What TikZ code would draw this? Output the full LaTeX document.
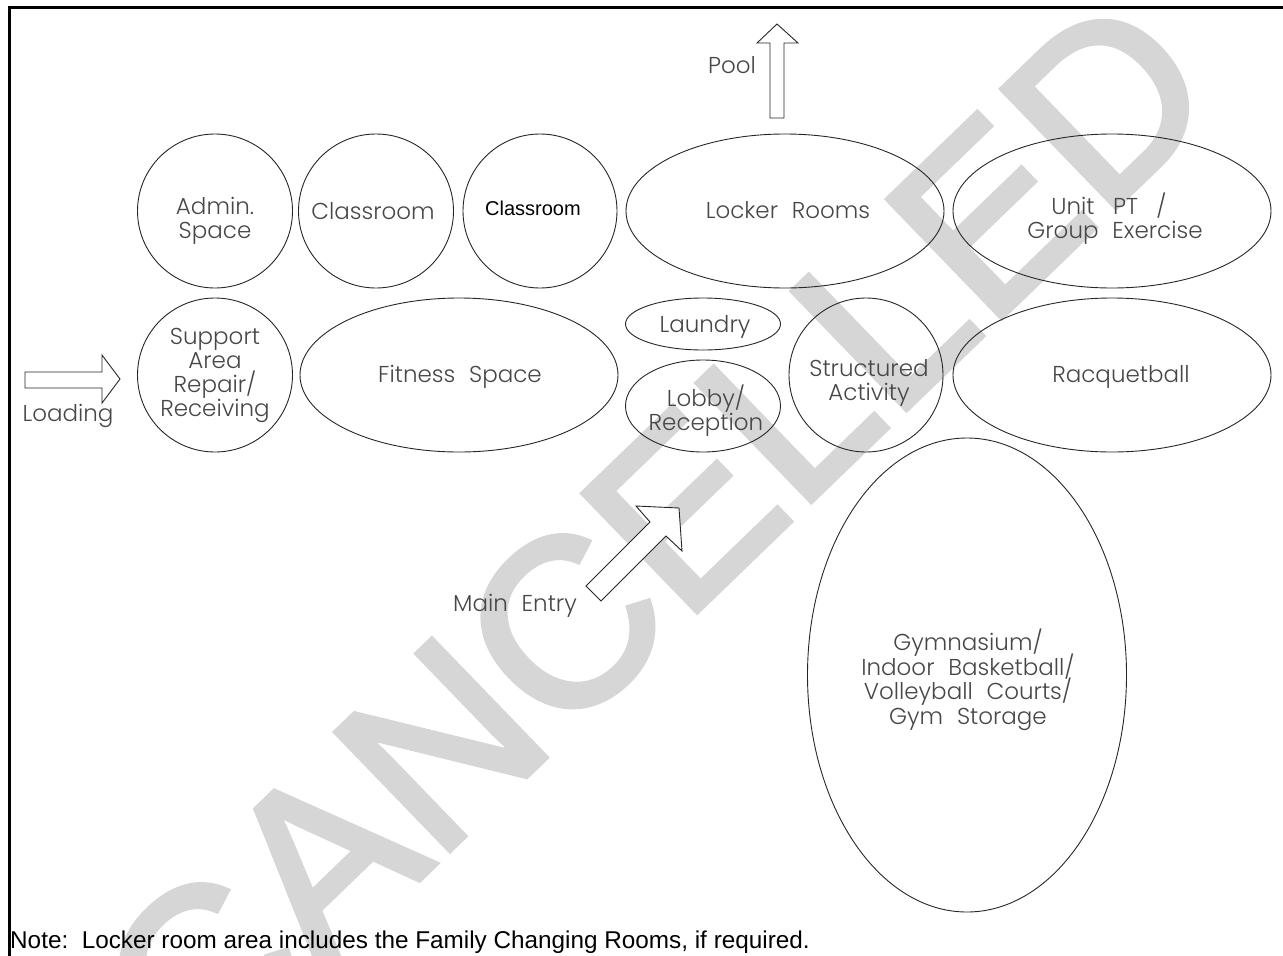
\documentclass[tikz,border=0pt]{standalone}
\usepackage{fontspec}
\setmainfont{Liberation Sans}
\newfontfamily\cadfont{Poppins}[UprightFont={* Light}]
\newfontfamily\wmfont{Liberation Sans}[FakeBold=2.5]
\usetikzlibrary{shapes.geometric}
\newcommand\wsp{\hspace{0.6em}}
\tikzset{
  room/.style={ellipse, draw=black!85, line width=0.9pt, inner sep=0pt},
  lbl/.style={font=\cadfont\fontsize{23}{24}\selectfont, text=black!72, align=center, inner sep=0pt},
  warrow/.style={draw=black!85, line width=0.9pt, fill=white, line join=miter},
  wmark/.style={font=\wmfont\fontsize{238}{238}\selectfont, text=black!16, inner sep=0pt}
}
\begin{document}
\setlength{\lineskiplimit}{-50pt}
\begin{tikzpicture}[x=1pt,y=-1pt]
\useasboundingbox (0,0) rectangle (1283,956);
% watermark
\node[wmark, rotate=44] (wm) at (655,538) {CANCELLED};
% frame
\draw[line width=3pt] (9,956) -- (9,7) -- (1283,7);
% rooms row 1
\node[room, minimum width=155pt, minimum height=154pt] (admin) at (215,211) {};
\node[room, minimum width=155pt, minimum height=154pt] (class1) at (376,211) {};
\node[room, minimum width=154pt, minimum height=154pt] (class2) at (540,211) {};
\node[room, minimum width=318pt, minimum height=154pt] (locker) at (785,211) {};
\node[room, minimum width=318pt, minimum height=154pt] (unitpt) at (1112,211) {};
% rooms row 2
\node[room, minimum width=155pt, minimum height=154pt] (support) at (215,375) {};
\node[room, minimum width=318pt, minimum height=154pt] (fitness) at (459,375) {};
\node[room, minimum width=155pt, minimum height=52pt] (laundry) at (703,324) {};
\node[room, minimum width=155pt, minimum height=92pt] (lobby) at (703,406) {};
\node[room, minimum width=154pt, minimum height=154pt] (struct) at (866,375) {};
\node[room, minimum width=318pt, minimum height=154pt] (racq) at (1112,375) {};
% gym
\node[room, minimum width=319pt, minimum height=474pt] (gym) at (967,675) {};
% labels
\node[lbl] (tadmin) at (215,221) {Admin.\\Space};
\node[lbl] (tclass1) at (373,211) {Classroom};
\node[font=\fontsize{20}{20}\selectfont, inner sep=0pt] (tclass2) at (533,208) {Classroom};
\node[lbl] (tlocker) at (788,210) {Locker\wsp Rooms};
\node[lbl] (tunit) at (1115,219) {Unit\hspace{0.8em}PT\hspace{0.8em}/\hspace*{12pt}\\Group\wsp Exercise};
\node[lbl] (tsupport) at (215,375) {Support\\Area\\Repair/\\Receiving};
\node[lbl] (tfitness) at (460,377) {Fitness\wsp Space};
\node[lbl] (tlaundry) at (705,327) {Laundry};
\node[lbl] (tlobby) at (706,411) {Lobby/\\Reception};
\node[lbl] (tstruct) at (869,383) {Structured\\Activity};
\node[lbl] (tracq) at (1121,377) {Racquetball};
\node[lbl, font=\cadfont\fontsize{23}{24.5}\selectfont] (tgym) at (968,680) {Gymnasium/\\Indoor\wsp Basketball/\\Volleyball\wsp Courts/\\Gym\wsp Storage};
% arrows
\draw[warrow] (770,118) -- (770,43) -- (757,43) -- (777,24) -- (798,43) -- (784,43) -- (784,118) -- cycle;
\node[lbl] (tpool) at (732,65) {Pool};
\draw[warrow] (25,372) -- (102,372) -- (102,355) -- (120,379) -- (102,403) -- (102,388) -- (25,388) -- cycle;
\node[lbl] (tloading) at (68,416) {Loading};
\draw[warrow] (586,586) -- (650,522) -- (636,506) -- (679,508) -- (682,551) -- (666,536) -- (601,601) -- cycle;
\node[lbl] (tmain) at (515,606) {Main\wsp Entry};
% note
\node[font=\fontsize{24.3}{24.3}\selectfont, anchor=base west, inner sep=0pt] (note) at (10,948) {Note:\ \ Locker room area includes the Family Changing Rooms, if required.};
\end{tikzpicture}
\end{document}
